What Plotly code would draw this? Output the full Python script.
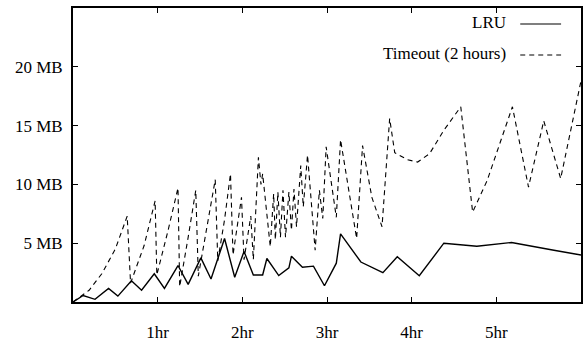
import plotly.graph_objects as go

# ---- data (hours, MB) ----
lru_x = [0, 0.12, 0.26, 0.42, 0.53, 0.69, 0.81, 0.96, 1.08, 1.24, 1.36, 1.51, 1.63, 1.79, 1.91,
         2.02, 2.13, 2.24, 2.29, 2.43, 2.55, 2.58, 2.71, 2.84, 2.97, 3.11, 3.16, 3.40, 3.66, 3.83,
         4.09, 4.38, 4.77, 5.18, 5.68, 6.0]
lru_y = [0, 0.55, 0.23, 1.15, 0.5, 1.8, 1.0, 2.4, 1.16, 3.1, 1.5, 3.75, 1.95, 5.4, 2.1,
         4.3, 2.3, 2.3, 3.7, 2.25, 2.9, 3.9, 2.95, 3.05, 1.38, 3.3, 5.8, 3.4, 2.5, 3.84,
         2.23, 5.0, 4.74, 5.06, 4.4, 4.0]

timeout_x = [0, 0.19, 0.34, 0.50, 0.64, 0.68, 0.84, 0.97, 0.99, 1.12, 1.24, 1.26, 1.36, 1.45,
             1.48, 1.58, 1.68, 1.71, 1.79, 1.86, 1.89, 1.99, 2.02, 2.10, 2.13, 2.19, 2.22, 2.24,
             2.33, 2.37, 2.39, 2.42, 2.45, 2.48, 2.51, 2.55, 2.58, 2.61, 2.64, 2.69, 2.72, 2.77,
             2.86, 2.91, 2.95, 2.99, 3.11, 3.16, 3.35, 3.42, 3.53, 3.65, 3.74, 3.80, 3.95, 4.07,
             4.21, 4.38, 4.58, 4.72, 4.89, 5.19, 5.38, 5.56, 5.76, 6.0]
timeout_y = [0, 1.0, 2.4, 4.5, 7.3, 1.6, 4.8, 8.6, 2.3, 6.0, 9.7, 1.3, 5.5, 9.5,
             2.2, 6.2, 10.4, 3.5, 7.0, 10.9, 4.0, 8.9, 3.6, 7.3, 3.6, 12.3, 10.0, 10.9,
             4.7, 9.2, 5.3, 9.35, 5.5, 9.5, 5.5, 9.35, 6.1, 9.6, 6.4, 11.6, 8.1, 12.5,
             4.4, 9.5, 7.1, 13.2, 7.2, 13.8, 5.4, 13.3, 8.9, 6.4, 15.6, 12.7, 12.1, 11.9,
             12.6, 14.6, 16.6, 7.65, 10.3, 16.6, 9.77, 15.4, 10.5, 18.8]

x_tickvals = [1, 2, 3, 4, 5]
x_ticktext = ["1hr", "2hr", "3hr", "4hr", "5hr"]
y_tickvals = [5, 10, 15, 20]
y_ticktext = ["5 MB", "10 MB", "15 MB", "20 MB"]
series_names = ["LRU", "Timeout (2 hours)"]

W, H = 584, 345
ML, MR, MT, MB = 73, 1, 8, 43
FONT = dict(family="Liberation Serif", size=17, color="black")
DASH = "5px,4px"

fig = go.Figure()
fig.add_trace(go.Scatter(x=lru_x, y=lru_y, mode="lines", name=series_names[0],
                         line=dict(color="black", width=1.4), showlegend=False))
fig.add_trace(go.Scatter(x=timeout_x, y=timeout_y, mode="lines", name=series_names[1],
                         line=dict(color="black", width=1.1, dash=DASH), showlegend=False))

pw = W - ML - MR
ph = H - MT - MB
def px(x):
    return (x - ML) / pw
def py(y):
    return 1 - (y - MT) / ph

# manual gnuplot-style legend (text left of sample)
legend_rows = [(series_names[0], 23, "solid"), (series_names[1], 54, DASH)]
for name, yy, dash in legend_rows:
    fig.add_annotation(x=px(510), y=py(yy), xref="paper", yref="paper", text=name,
                       showarrow=False, xanchor="right", yanchor="middle", font=FONT)
    fig.add_shape(type="line", xref="paper", yref="paper", x0=px(522), x1=px(563),
                  y0=py(yy + 1), y1=py(yy + 1), line=dict(color="black", width=1.2, dash=dash))

axis_common = dict(showline=True, linecolor="black", linewidth=2, mirror="ticks",
                   ticks="inside", ticklen=5, tickwidth=1.2, tickcolor="black",
                   showgrid=False, zeroline=False, tickfont=FONT)
fig.update_xaxes(range=[0, 6], tickvals=x_tickvals, ticktext=x_ticktext,
                 ticklabelstandoff=14, **axis_common)
fig.update_yaxes(range=[0, 25], tickvals=y_tickvals, ticktext=y_ticktext,
                 ticklabelstandoff=5, **axis_common)
fig.update_layout(width=W, height=H, margin=dict(l=ML, r=MR, t=MT, b=MB),
                  font=FONT, plot_bgcolor="white", paper_bgcolor="white", showlegend=False)
fig.write_html("out.html", config={"displayModeBar": False},
               post_script="document.body.style.margin='0';document.body.style.overflow='hidden';")
